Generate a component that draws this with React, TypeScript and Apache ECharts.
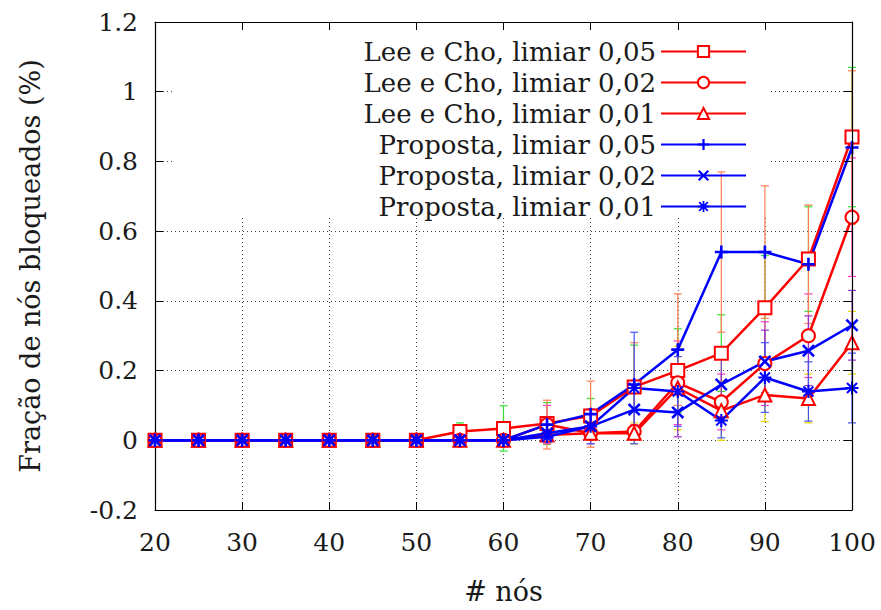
import React, { useEffect, useRef } from "react";
import * as echarts from "echarts";

const nodes = [20, 25, 30, 35, 40, 45, 50, 55, 60, 65, 70, 75, 80, 85, 90, 95, 100];

const leeCho005 = [0, 0, 0, 0, 0, 0, 0, 0.025, 0.034, 0.048, 0.07, 0.153, 0.2, 0.25, 0.38, 0.52, 0.87];
const leeCho005Err = [0, 0, 0, 0, 0, 0, 0, 0.025, 0.065, 0.06, 0.05, 0.12, 0.12, 0.11, 0.15, 0.15, 0.2];

const leeCho002 = [0, 0, 0, 0, 0, 0, 0, 0, 0, 0.045, 0.02, 0.025, 0.165, 0.11, 0.22, 0.3, 0.64];
const leeCho002Err = [0, 0, 0, 0, 0, 0, 0, 0, 0, 0.055, 0.03, 0.02, 0.12, 0.08, 0.12, 0.12, 0.17];

const leeCho001 = [0, 0, 0, 0, 0, 0, 0, 0, 0, 0.015, 0.02, 0.02, 0.15, 0.085, 0.13, 0.12, 0.28];
const leeCho001Err = [0, 0, 0, 0, 0, 0, 0, 0, 0, 0.02, 0.02, 0.03, 0.12, 0.085, 0.076, 0.07, 0.09];

const proposta005 = [0, 0, 0, 0, 0, 0, 0, 0, 0, 0.045, 0.075, 0.16, 0.26, 0.54, 0.54, 0.505, 0.84];
const proposta005Err = [0, 0, 0, 0, 0, 0, 0, 0, 0, 0.07, 0.095, 0.12, 0.16, 0.23, 0.19, 0.17, 0.22];

const proposta002 = [0, 0, 0, 0, 0, 0, 0, 0, 0, 0.02, 0.04, 0.088, 0.08, 0.16, 0.226, 0.257, 0.33];
const proposta002Err = [0, 0, 0, 0, 0, 0, 0, 0, 0, 0.02, 0.03, 0.08, 0.07, 0.08, 0.09, 0.1, 0.1];

const proposta001 = [0, 0, 0, 0, 0, 0, 0, 0, 0, 0.01, 0.04, 0.15, 0.14, 0.057, 0.18, 0.14, 0.15];
const proposta001Err = [0, 0, 0, 0, 0, 0, 0, 0, 0, 0.015, 0.05, 0.16, 0.1, 0.05, 0.1, 0.085, 0.1];

const seriesNames = [
  "Lee e Cho, limiar 0,05",
  "Lee e Cho, limiar 0,02",
  "Lee e Cho, limiar 0,01",
  "Proposta, limiar 0,05",
  "Proposta, limiar 0,02",
  "Proposta, limiar 0,01",
];

const xAxisName = "# nós";
const yAxisName = "Fração de nós bloqueados (%)";

const PLUS = "path://M4,0h2v4h4v2h-4v4h-2v-4h-4v-2h4z";
const CROSS = "path://M0,1.4L1.4,0L5,3.6L8.6,0L10,1.4L6.4,5L10,8.6L8.6,10L5,6.4L1.4,10L0,8.6L3.6,5Z";
const STAR = "path://M4.2,0h1.6v4.2h4.2v1.6h-4.2v4.2h-1.6v-4.2h-4.2v-1.6h4.2zM0.6,1.7L1.7,0.6L5,3.9L8.3,0.6L9.4,1.7L6.1,5L9.4,8.3L8.3,9.4L5,6.1L1.7,9.4L0.6,8.3L3.9,5Z";

const FONT = "DejaVu Serif";

export default function App() {
  const ref = useRef<HTMLDivElement>(null);

  useEffect(() => {
    const chart = echarts.init(ref.current!, null, { renderer: "svg" });

    const defs = [
      { name: seriesNames[0], vals: leeCho005, errs: leeCho005Err, color: "#ff0000", symbol: "emptyRect", errColor: "#33e033" },
      { name: seriesNames[1], vals: leeCho002, errs: leeCho002Err, color: "#ff0000", symbol: "emptyCircle", errColor: "#ff33cc" },
      { name: seriesNames[2], vals: leeCho001, errs: leeCho001Err, color: "#ff0000", symbol: "emptyTriangle", errColor: "#e8d800" },
      { name: seriesNames[3], vals: proposta005, errs: proposta005Err, color: "#0000ff", symbol: PLUS, errColor: "#ff7f50" },
      { name: seriesNames[4], vals: proposta002, errs: proposta002Err, color: "#0000ff", symbol: CROSS, errColor: "#9933cc" },
      { name: seriesNames[5], vals: proposta001, errs: proposta001Err, color: "#0000ff", symbol: STAR, errColor: "#4455ee" },
    ];

    const errSeries = defs.map((d, k) => ({
      type: "custom",
      name: "err" + k,
      z: 2,
      clip: false,
      silent: true,
      encode: { x: 0, y: [1, 2] },
      data: nodes
        .map((x, i) => [x, d.vals[i] - d.errs[i], d.vals[i] + d.errs[i], d.errs[i]])
        .filter((r) => r[3] > 0),
      renderItem: (_params: any, api: any) => {
        const x = api.value(0);
        const lo = api.coord([x, api.value(1)]);
        const hi = api.coord([x, api.value(2)]);
        const w = 4;
        const style = { stroke: d.errColor, lineWidth: 1.2 };
        return {
          type: "group",
          children: [
            { type: "line", shape: { x1: lo[0], y1: lo[1], x2: hi[0], y2: hi[1] }, style },
            { type: "line", shape: { x1: lo[0] - w, y1: lo[1], x2: lo[0] + w, y2: lo[1] }, style },
            { type: "line", shape: { x1: hi[0] - w, y1: hi[1], x2: hi[0] + w, y2: hi[1] }, style },
          ],
        };
      },
    }));

    const lineSeries = defs.map((d) => ({
      type: "line",
      name: d.name,
      z: 3,
      data: nodes.map((x, i) => [x, d.vals[i]]),
      symbol: d.symbol,
      symbolSize: 13,
      showSymbol: true,
      clip: false,
      color: d.color,
      lineStyle: { color: d.color, width: 2.5 },
      itemStyle: { color: d.color, borderWidth: 2 },
      emphasis: { disabled: true },
    }));

    const axisLabelStyle = { fontFamily: FONT, fontSize: 25, color: "#1a1a1a" };

    chart.setOption({
      animation: false,
      backgroundColor: "#ffffff",
      grid: { left: 155, right: 29, top: 22, bottom: 92, containLabel: false },
      legend: {
        orient: "vertical",
        align: "right",
        right: 129,
        top: 31,
        itemWidth: 85,
        itemHeight: 14,
        itemGap: 0,
        data: seriesNames,
        selectedMode: false,
        textStyle: { fontFamily: FONT, fontSize: 26, lineHeight: 31, color: "#1a1a1a" },
      },
      graphic: [
        {
          type: "rect",
          z: 1,
          silent: true,
          shape: { x: 174, y: 24, width: 594, height: 194 },
          style: { fill: "#ffffff" },
        },
      ],
      xAxis: [
        {
          type: "value",
          position: "bottom",
          min: 20,
          max: 100,
          interval: 10,
          z: 0,
          name: xAxisName,
          nameLocation: "middle",
          nameGap: 68,
          nameTextStyle: { fontFamily: FONT, fontSize: 27, color: "#1a1a1a" },
          axisLine: { show: true, onZero: false, lineStyle: { color: "#000", width: 1.2 } },
          axisTick: { show: true, inside: true, length: 8, lineStyle: { color: "#000" } },
          axisLabel: { ...axisLabelStyle, margin: 20 },
          splitLine: { show: true, lineStyle: { color: "#444", width: 1, type: [1, 3] } },
        },
        {
          type: "value",
          position: "top",
          min: 20,
          max: 100,
          interval: 10,
          z: 5,
          axisLine: { show: true, onZero: false, lineStyle: { color: "#000", width: 1.2 } },
          axisTick: { show: true, inside: true, length: 8, lineStyle: { color: "#000" } },
          axisLabel: { show: false },
          splitLine: { show: false },
        },
      ],
      yAxis: [
        {
          type: "value",
          position: "left",
          min: -0.2,
          max: 1.2,
          interval: 0.2,
          z: 0,
          name: yAxisName,
          nameLocation: "middle",
          nameGap: 111,
          nameTextStyle: { fontFamily: FONT, fontSize: 27, color: "#1a1a1a" },
          axisLine: { show: true, onZero: false, lineStyle: { color: "#000", width: 1.2 } },
          axisTick: { show: true, inside: true, length: 8, lineStyle: { color: "#000" } },
          axisLabel: { ...axisLabelStyle, margin: 17 },
          splitLine: { show: true, lineStyle: { color: "#444", width: 1, type: [1, 3] } },
        },
        {
          type: "value",
          position: "right",
          min: -0.2,
          max: 1.2,
          interval: 0.2,
          z: 5,
          axisLine: { show: true, onZero: false, lineStyle: { color: "#000", width: 1.2 } },
          axisTick: { show: true, inside: true, length: 8, lineStyle: { color: "#000" } },
          axisLabel: { show: false },
          splitLine: { show: false },
        },
      ],
      series: [...errSeries, ...lineSeries],
    });

    return () => chart.dispose();
  }, []);

  return (
    <div
      ref={ref}
      style={{ position: "fixed", left: 0, top: 0, width: 881, height: 610, background: "#fff" }}
    />
  );
}
